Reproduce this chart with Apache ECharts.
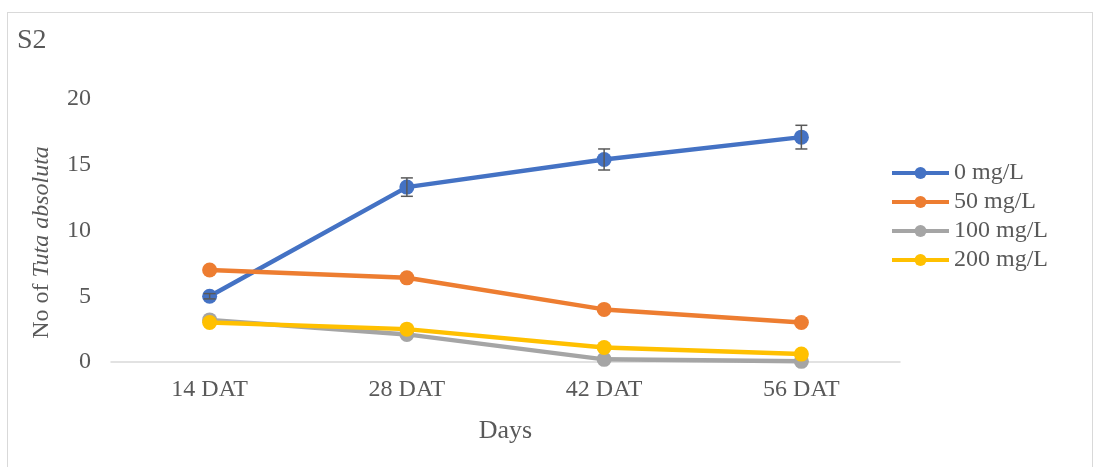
<!DOCTYPE html>
<html><head><meta charset="utf-8">
<script src="https://cdn.jsdelivr.net/npm/echarts@6/dist/echarts.min.js"></script>
<style>html,body{margin:0;padding:0;background:#fff}#c{width:1097px;height:467px}
#frame{position:absolute;left:7px;top:12px;width:1084px;height:470px;border:1px solid #d9d9d9;pointer-events:none}</style>
</head><body><div id="c"></div><div id="frame"></div>
<script>
const categories = ['14 DAT', '28 DAT', '42 DAT', '56 DAT'];
const s0 = [5.0, 13.3, 15.4, 17.1];
const s50 = [7.0, 6.4, 4.0, 3.0];
const s100 = [3.2, 2.1, 0.2, 0.05];
const s200 = [3.0, 2.5, 1.1, 0.6];
const err0 = [0.2, 0.7, 0.8, 0.9];
const yTicks = [0, 5, 10, 15, 20];

const font = 'Liberation Serif, Times New Roman, serif';
const txt = '#595959';
function line(name, data, color) {
  return { name, type: 'line', data, symbol: 'circle', symbolSize: 15,
    lineStyle: { width: 4.5, color }, itemStyle: { color }, z: 3 };
}
const errData = s0.map((v, i) => [i, v - err0[i], v + err0[i]]);
const chart = echarts.init(document.getElementById('c'));
chart.setOption({
  animation: false,
  title: { text: 'S2', left: 12, top: 22, textStyle: { fontFamily: font, fontSize: 28, fontWeight: 'normal', color: txt } },
  grid: { left: 111, right: 197, top: 99, bottom: 105 },
  legend: { orient: 'vertical', left: 885, top: 156, itemWidth: 57, itemHeight: 15, itemGap: 5,
    lineStyle: { width: 4 },
    textStyle: { fontFamily: font, fontSize: 24, color: txt },
    data: ['0 mg/L', '50 mg/L', '100 mg/L', '200 mg/L'] },
  xAxis: { type: 'category', data: categories, boundaryGap: true,
    axisLine: { lineStyle: { color: '#d9d9d9', width: 1.5 } }, axisTick: { show: false },
    axisLabel: { fontFamily: font, fontSize: 24, color: txt, margin: 16 },
    name: 'Days', nameLocation: 'middle', nameGap: 56,
    nameTextStyle: { fontFamily: font, fontSize: 26, color: txt } },
  yAxis: { type: 'value', min: yTicks[0], max: yTicks[yTicks.length - 1], interval: 5,
    splitLine: { show: false }, axisLine: { show: false }, axisTick: { show: false },
    axisLabel: { fontFamily: font, fontSize: 24, color: txt, margin: 20 },
    name: '{n|No of }{i|Tuta absoluta}', nameLocation: 'middle', nameRotate: 90, nameGap: 57,
    nameTextStyle: { padding: [0, 24, 0, 0], rich: {
      n: { fontFamily: font, fontSize: 24, color: txt },
      i: { fontFamily: font, fontSize: 24, color: txt, fontStyle: 'italic' } } } },
  series: [
    line('0 mg/L', s0, '#4472c4'),
    line('50 mg/L', s50, '#ed7d31'),
    line('100 mg/L', s100, '#a5a5a5'),
    line('200 mg/L', s200, '#ffc000'),
    { type: 'custom', name: 'err', data: errData, z: 5, silent: true,
      renderItem(params, api) {
        const x = api.value(0);
        const lo = api.coord([x, api.value(1)]);
        const hi = api.coord([x, api.value(2)]);
        const w = 6;
        const st = { stroke: '#595959', lineWidth: 1.5 };
        return { type: 'group', children: [
          { type: 'line', shape: { x1: lo[0], y1: lo[1], x2: hi[0], y2: hi[1] }, style: st },
          { type: 'line', shape: { x1: lo[0] - w, y1: lo[1], x2: lo[0] + w, y2: lo[1] }, style: st },
          { type: 'line', shape: { x1: hi[0] - w, y1: hi[1], x2: hi[0] + w, y2: hi[1] }, style: st }
        ] };
      } }
  ]
});
</script></body></html>
